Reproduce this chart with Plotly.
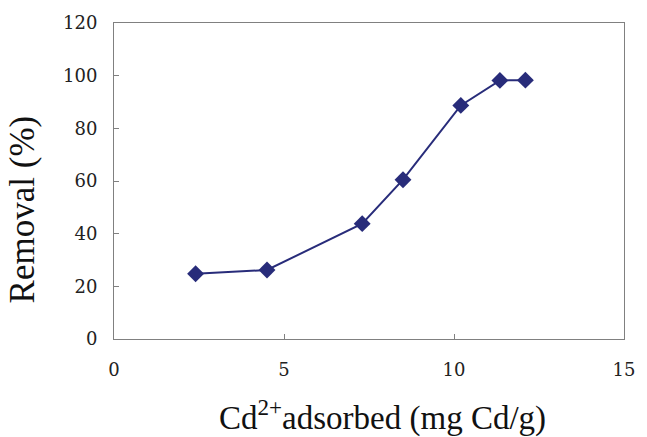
import plotly.graph_objects as go

cd_adsorbed = [2.4, 4.5, 7.3, 8.5, 10.2, 11.35, 12.1]
removal = [24.8, 26.2, 43.8, 60.5, 88.7, 98.2, 98.3]
x_ticks = [0, 5, 10, 15]
y_ticks = [0, 20, 40, 60, 80, 100, 120]

fig = go.Figure()
fig.add_trace(go.Scatter(
    x=cd_adsorbed, y=removal, mode="lines+markers",
    line=dict(color="#282C7A", width=2),
    marker=dict(symbol="diamond", size=13, color="#282C7A"),
    showlegend=False,
))

title_font = "Liberation Serif"
tick_font = "DejaVu Serif"
fig.update_layout(
    width=647, height=437,
    margin=dict(l=114, r=23, t=17, b=98),
    plot_bgcolor="white", paper_bgcolor="white",
    font=dict(family=title_font, color="#222222"),
)
fig.update_xaxes(
    range=[0, 15], tickvals=x_ticks, ticktext=[str(v) for v in x_ticks],
    ticks="inside", ticklen=5, tickcolor="#808080",
    showline=True, linecolor="#808080", linewidth=1, mirror=True,
    showgrid=False, zeroline=False,
    tickfont=dict(size=18, family=tick_font, color="#222222"),
    ticklabelstandoff=14,
)
fig.update_yaxes(
    range=[0, 120], tickvals=y_ticks, ticktext=[str(v) for v in y_ticks],
    ticks="inside", ticklen=5, tickcolor="#808080",
    showline=True, linecolor="#808080", linewidth=1, mirror=True,
    showgrid=False, zeroline=False,
    tickfont=dict(size=18, family=tick_font, color="#222222"),
    ticklabelstandoff=12,
)
fig.add_annotation(
    text="Cd<sup>2+</sup>adsorbed (mg Cd/g)", xref="paper", yref="paper",
    x=0.527, y=0, xanchor="center", yanchor="middle", yshift=-76,
    showarrow=False, font=dict(size=33, family=title_font, color="#111111"),
)
fig.add_annotation(
    text="Removal (%)", xref="paper", yref="paper",
    x=-0.1805, y=0.41, xanchor="center", yanchor="middle", textangle=-90,
    showarrow=False, font=dict(size=35, family=title_font, color="#111111"),
)

fig.write_html("out.html")
